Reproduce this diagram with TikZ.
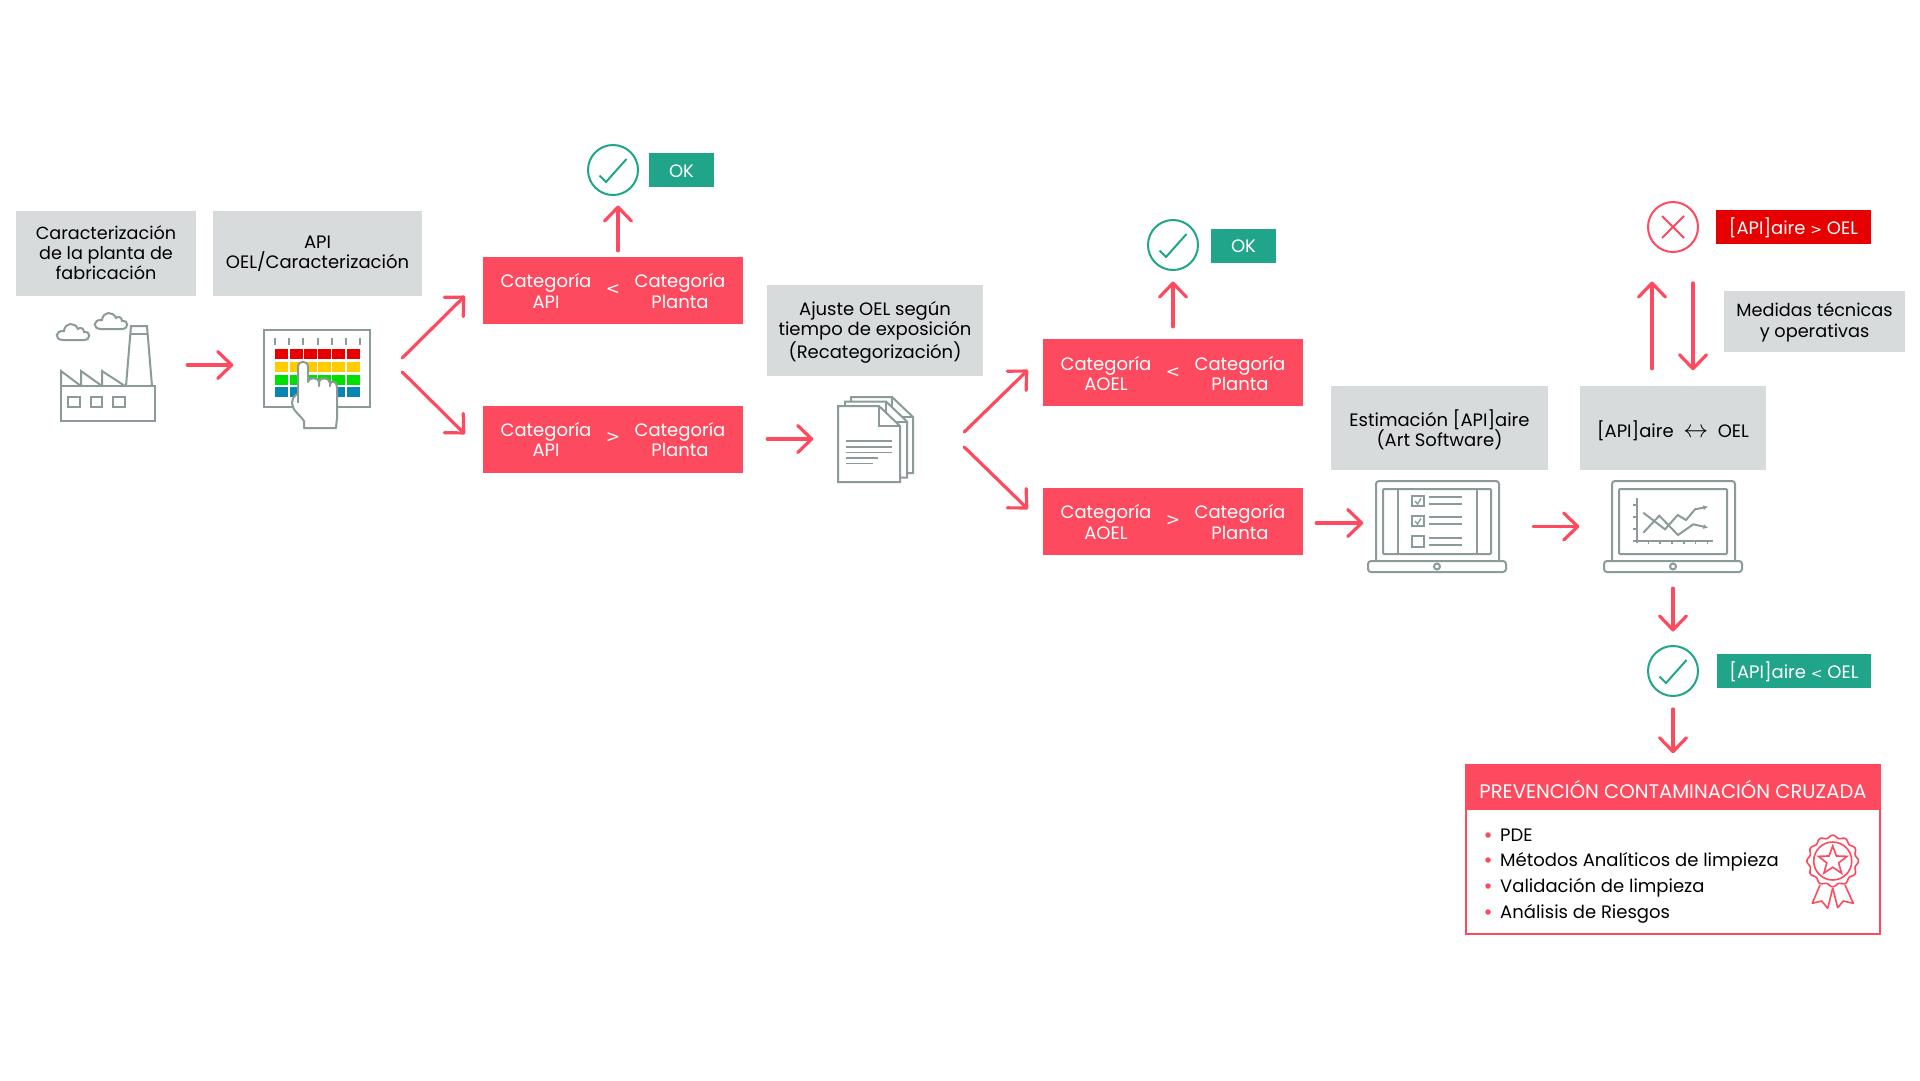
\documentclass[tikz,border=0pt]{standalone}
\usepackage{fontspec}
\setmainfont{Poppins}
\newfontfamily\simbolos{DejaVu Sans}
\usetikzlibrary{arrows.meta,shapes.geometric}

\definecolor{rojoc}{HTML}{FD4A5E}
\definecolor{rojot}{HTML}{E60000}
\definecolor{grisc}{HTML}{D7DBDB}
\definecolor{verdec}{HTML}{20A58A}
\definecolor{icono}{HTML}{8B9B99}
\definecolor{celrojo}{HTML}{E80000}
\definecolor{celamar}{HTML}{FFCC00}
\definecolor{celverde}{HTML}{00E000}
\definecolor{celazul}{HTML}{0A84B0}

\newcommand{\signo}[1]{{\simbolos\fontsize{17}{20}\selectfont #1}}
\newcommand{\signotag}[1]{{\simbolos\fontsize{14}{20}\selectfont #1}}

\tikzset{
    x=1pt, y=-1pt,
    flecha/.style={draw=rojoc, line width=3.2pt, line cap=round, shorten >=-1.5pt,
        -{Straight Barb[length=14pt,width=27pt,line width=3.2pt,round]}},
    letra/.style={font=\fontsize{18}{20.5}\selectfont, align=center, inner sep=0pt},
    gris/.style={letra, fill=grisc, text=black, minimum width=#1},
    negra/.style={letra, text=black},
    roja/.style={fill=rojoc, minimum width=260pt, minimum height=67pt, inner sep=0pt},
    blanca/.style={letra, text=white},
    etiqueta/.style={letra, fill=#1, text=white, minimum height=34pt, text height=14pt, text depth=0pt},
    circulo/.style={circle, draw=#1, line width=2pt, minimum size=50pt, inner sep=0pt},
    hueco/.style={inner sep=0pt, minimum width=#1},
    lineaicono/.style={draw=icono, line width=2pt},
    celda/.style={minimum width=13pt, minimum height=10pt, inner sep=0pt, fill=#1},
    lista/.style={letra, anchor=base west, text=black},
    vineta/.style={circle, fill=rojoc, minimum size=5.5pt, inner sep=0pt},
    nube/.pic={
        \draw[lineaicono, fill=white] (-10,8) -- (11,8) .. controls (18,8) and (18,-1) .. (11,0)
            .. controls (11,-4) and (7,-5) .. (5,-3) .. controls (2,-10) and (-8,-10) .. (-9,-1)
            .. controls (-18,-2) and (-19,8) .. (-10,8) -- cycle;
    },
    hoja/.pic={
        \draw[lineaicono, fill=white] (0,0) -- (41,0) -- (62,20) -- (62,76) -- (0,76) -- cycle;
        \draw[lineaicono] (41,0) -- (41,20) -- (62,20);
    },
    portatil/.pic={
        \draw[lineaicono, rounded corners=3pt] (0,80) -- (0,0) -- (123,0) -- (123,80);
        \draw[lineaicono, rounded corners=1pt] (7,8) rectangle (115,73);
        \draw[lineaicono, rounded corners=3pt, fill=white] (-8,80) rectangle (130,91);
        \draw[lineaicono] (61,85.5) circle (3pt);
    },
}

\begin{document}
\begin{tikzpicture}
            \useasboundingbox (0,0) rectangle (1920,1080);

            \node[gris=180pt, minimum height=85pt] (carplanta) at (106,253.5) {};
            \node[negra, font=\fontsize{17.6}{20.3}\selectfont] (carplantatxt) at (106,252.5) {Caracterización\\de la planta de\\fabricación};
            \node[gris=209pt, minimum height=85pt] (apioel) at (317.5,253.5) {API\\OEL/Caracterización};
            \node[gris=216pt, minimum height=91pt] (ajuste) at (875,330.5) {};
            \node[negra] (ajustetxt) at (875,332) {Ajuste OEL según\\tiempo de exposición\\(Recategorización)};
            \node[gris=217pt, minimum height=84pt] (estimacion) at (1439.5,428) {};
            \node[negra] (estimaciontxt) at (1439.5,430) {Estimación [API]aire\\(Art Software)};
            \node[gris=186pt, minimum height=84pt, text height=19pt, text depth=0pt] (compara) at (1673,428) {[API]aire \ {\fontsize{24}{20}\selectfont$\leftrightarrow$}\ \ OEL};
            \node[gris=181pt, minimum height=61pt] (medidas) at (1814.5,321.5) {};
            \node[negra, font=\fontsize{17.7}{20.3}\selectfont] (medidastxt) at (1814.5,322.5) {Medidas técnicas\\y operativas};

            \node[roja] (catA) at (613,290.5) {};
            \node[blanca] (catAizq) at (546,291) {Categoría\\API};
            \node[blanca] (catAsig) at (613,289.5) {\signo{<}};
            \node[blanca] (catAder) at (680,291) {Categoría\\Planta};

            \node[roja] (catB) at (613,439) {};
            \node[blanca] (catBizq) at (546,439.5) {Categoría\\API};
            \node[blanca] (catBsig) at (613,438) {\signo{>}};
            \node[blanca] (catBder) at (680,439.5) {Categoría\\Planta};

            \node[roja] (catC) at (1173,372.5) {};
            \node[blanca] (catCizq) at (1106,373.5) {Categoría\\AOEL};
            \node[blanca] (catCsig) at (1173,372.5) {\signo{<}};
            \node[blanca] (catCder) at (1240,373.5) {Categoría\\Planta};

            \node[roja] (catD) at (1173,521.5) {};
            \node[blanca] (catDizq) at (1106,522) {Categoría\\AOEL};
            \node[blanca] (catDsig) at (1173,520.5) {\signo{>}};
            \node[blanca] (catDder) at (1240,522) {Categoría\\Planta};

            \node[circulo=verdec] (okA) at (613,170) {};
            \draw[verdec, line width=2pt] (599.5,175.5) -- (606,182) -- (626.5,159);
            \node[etiqueta=verdec, minimum width=65pt] (tagA) at (681.5,170) {OK};

            \node[circulo=verdec] (okB) at (1173,245) {};
            \draw[verdec, line width=2pt] (1159.5,250.5) -- (1166,257) -- (1186.5,234);
            \node[etiqueta=verdec, minimum width=65pt] (tagB) at (1243.5,245.5) {OK};

            \node[circulo=rojoc] (malo) at (1673,227) {};
            \draw[rojoc, line width=2pt] (1662,216) -- (1684,238);
            \draw[rojoc, line width=2pt] (1684,216) -- (1662,238);
            \node[etiqueta=rojot, minimum width=155pt] (tagmalo) at (1793.5,227) {[API]aire \signotag{>} OEL};

            \node[circulo=verdec] (okC) at (1673,671) {};
            \draw[verdec, line width=2pt] (1659.5,676.5) -- (1666,683) -- (1686.5,660);
            \node[etiqueta=verdec, minimum width=154pt] (tagC) at (1794,671) {[API]aire \signotag{<} OEL};

            \node[hueco=94pt, minimum height=110pt] (fabrica) at (108,365) {};
            \draw[lineaicono, fill=white] (61,386) rectangle (155,421);
            \draw[lineaicono] (61,386) -- (61,371) -- (81,386);
            \draw[lineaicono] (81,386) -- (81,371) -- (102,386);
            \draw[lineaicono] (102,386) -- (102,371) -- (125,386);
            \draw[lineaicono] (126,386) -- (131,326) -- (147,326) -- (152,386);
            \draw[lineaicono] (130.5,334) -- (147.5,334);
            \draw[lineaicono] (68,397) rectangle (80,407);
            \draw[lineaicono] (91,397) rectangle (102,407);
            \draw[lineaicono] (113,397) rectangle (125,407);
            \pic at (73,332) {nube};
            \pic at (111,321) {nube};

            \node[hueco=106pt, minimum height=110pt] (panel) at (317,365) {};
            \draw[lineaicono, fill=white] (264,330) rectangle (370,407);
            \draw[lineaicono] (275,338) -- (275,345);
            \draw[lineaicono] (289,338) -- (289,345);
            \draw[lineaicono] (303,338) -- (303,345);
            \draw[lineaicono] (317.5,338) -- (317.5,345);
            \draw[lineaicono] (332,338) -- (332,345);
            \draw[lineaicono] (346,338) -- (346,345);
            \draw[lineaicono] (360,338) -- (360,345);

            \node[celda=celrojo] (c11) at (281.5,354) {};
            \node[celda=celrojo] (c12) at (296.5,354) {};
            \node[celda=celrojo] (c13) at (310.5,354) {};
            \node[celda=celrojo] (c14) at (324.5,354) {};
            \node[celda=celrojo] (c15) at (338.5,354) {};
            \node[celda=celrojo] (c16) at (353.5,354) {};
            \node[celda=celamar] (c21) at (281.5,367) {};
            \node[celda=celamar] (c22) at (296.5,367) {};
            \node[celda=celamar] (c23) at (310.5,367) {};
            \node[celda=celamar] (c24) at (324.5,367) {};
            \node[celda=celamar] (c25) at (338.5,367) {};
            \node[celda=celamar] (c26) at (353.5,367) {};
            \node[celda=celverde] (c31) at (281.5,380) {};
            \node[celda=celverde] (c32) at (296.5,380) {};
            \node[celda=celverde] (c33) at (310.5,380) {};
            \node[celda=celverde] (c34) at (324.5,380) {};
            \node[celda=celverde] (c35) at (338.5,380) {};
            \node[celda=celverde] (c36) at (353.5,380) {};
            \node[celda=celazul] (c41) at (281.5,392) {};
            \node[celda=celazul] (c42) at (296.5,392) {};
            \node[celda=celazul] (c43) at (310.5,392) {};
            \node[celda=celazul] (c44) at (324.5,392) {};
            \node[celda=celazul] (c45) at (338.5,392) {};
            \node[celda=celazul] (c46) at (353.5,392) {};

            \draw[lineaicono, fill=white, line join=round] (304,428) -- (304,421) .. controls (300,415) and (292,410) .. (292,403)
                .. controls (292,398) and (296,394) .. (298,394) -- (298,367) .. controls (298,360) and (308,360) .. (308,367)
                -- (308,382) .. controls (308,377) and (319,377) .. (319,382) -- (319,386) -- (319,382)
                .. controls (319,377) and (330,377) .. (330,383) -- (330,386) -- (330,384)
                .. controls (331,380) and (337,381) .. (337,387) -- (337,418) -- (336,428) -- cycle;
            \draw[lineaicono] (298,394) -- (298,403);

            \node[hueco=75pt, minimum height=90pt] (docs) at (875.5,439) {};
            \pic at (851,397) {hoja};
            \pic at (845,401.5) {hoja};
            \pic at (838,406) {hoja};
            \draw[lineaicono, line width=1.6pt] (846,441) -- (892,441);
            \draw[lineaicono, line width=1.6pt] (846,447) -- (892,447);
            \draw[lineaicono, line width=1.6pt] (846,452.5) -- (892,452.5);
            \draw[lineaicono, line width=1.6pt] (846,458) -- (878,458);
            \draw[lineaicono, line width=1.6pt] (846,463.5) -- (873,463.5);

            \node[hueco=138pt, minimum height=91pt] (lapA) at (1437,526.5) {};
            \pic at (1376,481) {portatil};
            \draw[lineaicono] (1397.7,489) -- (1397.7,554);
            \draw[lineaicono] (1476.7,489) -- (1476.7,554);
            \draw[lineaicono] (1412.3,496) rectangle (1423.7,506);
            \draw[lineaicono] (1412.3,516) rectangle (1423.7,526.3);
            \draw[lineaicono] (1412.3,536) rectangle (1423.7,546.7);
            \draw[lineaicono, line width=1.4pt] (1415,501) -- (1417.5,504) -- (1421,498.5);
            \draw[lineaicono, line width=1.4pt] (1415,521) -- (1417.5,524) -- (1421,518.5);
            \draw[lineaicono] (1429.3,497.3) -- (1462,497.3);
            \draw[lineaicono] (1429.3,504.3) -- (1462,504.3);
            \draw[lineaicono] (1429.3,517.3) -- (1462,517.3);
            \draw[lineaicono] (1429.3,524.3) -- (1462,524.3);
            \draw[lineaicono] (1429.3,538) -- (1462,538);
            \draw[lineaicono] (1429.3,545) -- (1462,545);

            \node[hueco=138pt, minimum height=91pt] (lapB) at (1673,526.5) {};
            \pic at (1612,481) {portatil};
            \draw[lineaicono] (1636.7,498.3) -- (1636.7,542.7);
            \draw[lineaicono] (1633.3,541.3) -- (1712.7,541.3);
            \draw[lineaicono, line width=1.4pt] (1633,505) -- (1637,505);
            \draw[lineaicono, line width=1.4pt] (1633,517) -- (1637,517);
            \draw[lineaicono, line width=1.4pt] (1633,529) -- (1637,529);
            \draw[lineaicono, line width=1.4pt] (1648.3,541) -- (1648.3,544);
            \draw[lineaicono, line width=1.4pt] (1660,541) -- (1660,544);
            \draw[lineaicono, line width=1.4pt] (1672,541) -- (1672,544);
            \draw[lineaicono, line width=1.4pt] (1684,541) -- (1684,544);
            \draw[lineaicono, line width=1.4pt] (1695.7,541) -- (1695.7,544);
            \draw[lineaicono, line width=1.4pt] (1707.3,541) -- (1707.3,544);
            \draw[lineaicono, -{Latex[length=5pt,width=5pt]}] (1643.3,532.7) -- (1659.3,515.7) -- (1678,535) -- (1693.3,524.3) -- (1708.3,527.7);
            \draw[lineaicono, -{Latex[length=5pt,width=5pt]}] (1643.3,512.7) -- (1665,529.3) -- (1677.7,515) -- (1686,520) -- (1695,509.3) -- (1708.3,506.7);

            \node[draw=rojoc, line width=2.5pt, minimum width=414pt, minimum height=169pt, inner sep=0pt] (prev) at (1673,849.5) {};
            \node[fill=rojoc, minimum width=414pt, minimum height=45pt, inner sep=0pt, blanca, font=\fontsize{19.6}{22}\selectfont, text height=21pt, text depth=0pt] (prevtit) at (1673,787.5) {PREVENCIÓN CONTAMINACIÓN CRUZADA};

            \node[vineta] (v1) at (1488,835) {};
            \node[vineta] (v2) at (1488,860) {};
            \node[vineta] (v3) at (1488,886) {};
            \node[vineta] (v4) at (1488,912) {};
            \node[lista] (item1) at (1500,841.5) {PDE};
            \node[lista] (item2) at (1500,866.5) {Métodos Analíticos de limpieza};
            \node[lista] (item3) at (1500,892) {Validación de limpieza};
            \node[lista] (item4) at (1500,918) {Análisis de Riesgos};

            \draw[rojoc, line width=1.6pt, fill=white, line join=round] (1820,885) -- (1812.3,903.3) -- (1821.7,901) -- (1827.7,908.3) -- (1832.7,888);
            \draw[rojoc, line width=1.6pt, fill=white, line join=round] (1832.7,888) -- (1837.7,907.7) -- (1843.3,901) -- (1853.3,903.3) -- (1845,885);
            \draw[rojoc, line width=1.6pt, fill=white, smooth, domain=0:360, samples=145] plot ({1832.7+(24.5+1.3*cos(12*\x))*cos(\x)}, {861+(24.5+1.3*cos(12*\x))*sin(\x)}) -- cycle;
            \node[circle, draw=rojoc, line width=1.6pt, minimum size=38pt, inner sep=0pt] (sello) at (1832.7,861) {};
            \node[star, star points=5, star point ratio=2.4, draw=rojoc, line width=1.6pt, minimum size=30pt, inner sep=0pt] (estrella) at (1832.7,861) {};

            \draw[flecha] ([shift={(32,0)}]fabrica.east) -- ([shift={(-32,0)}]panel.west);
            \draw[flecha] ([shift={(32,-7)}]panel.east) -- ([shift={(-19,6.5)}]catA.west);
            \draw[flecha] ([shift={(32,7)}]panel.east) -- ([shift={(-19,-6)}]catB.west);
            \draw[flecha] ([shift={(5,-6)}]catA.north) -- ([shift={(5,11)}]okA.south);
            \draw[flecha] ([shift={(24,0)}]catB.east) -- ([shift={(-26,0)}]docs.west);
            \draw[flecha] ([shift={(51,-7)}]docs.east) -- ([shift={(-16,-1.5)}]catC.west);
            \draw[flecha] ([shift={(51,8)}]docs.east) -- ([shift={(-16,-13.5)}]catD.west);
            \draw[flecha] ([shift={(0,-12)}]catC.north) -- ([shift={(0,12)}]okB.south);
            \draw[flecha] ([shift={(13,1.5)}]catD.east) -- ([shift={(-6,-3.5)}]lapA.west);
            \draw[flecha] ([shift={(27,0)}]lapA.east) -- ([shift={(-26,0)}]lapB.west);
            \draw[flecha] ([shift={(-21,-17)}]compara.north) -- ([shift={(-21,30)}]malo.south);
            \draw[flecha] ([shift={(20,30)}]malo.south) -- ([shift={(20,-17)}]compara.north);
            \draw[flecha] ([shift={(0,16)}]lapB.south) -- ([shift={(0,-15)}]okC.north);
            \draw[flecha] ([shift={(0,12)}]okC.south) -- ([shift={(0,-12)}]prev.north);
        \end{tikzpicture}
\end{document}
